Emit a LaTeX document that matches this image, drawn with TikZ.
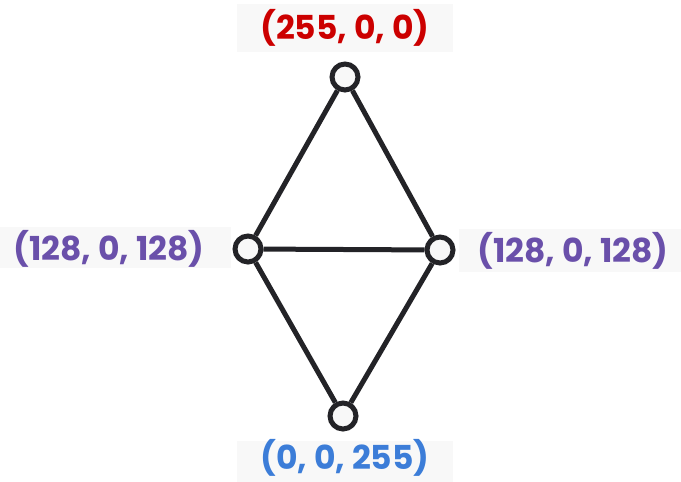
\documentclass[tikz,border=0pt]{standalone}
\usepackage{fontspec}
\setmainfont{Poppins}
\definecolor{edgec}{HTML}{232327}
\definecolor{boxbg}{HTML}{F8F8F8}
\definecolor{redc}{HTML}{CC0000}
\definecolor{purc}{HTML}{6A50AA}
\definecolor{bluc}{HTML}{3C7DD8}
\begin{document}
\begin{tikzpicture}[x=1pt,y=-1pt,
  vert/.style={circle,draw=edgec,fill=boxbg,line width=5pt,minimum size=26pt,inner sep=0pt},
  edge/.style={draw=edgec,line width=5pt},
  lab/.style={fill=boxbg,font=\fontsize{33}{36}\selectfont\bfseries,inner sep=0pt,text height=25pt,text depth=4pt}]
\useasboundingbox (0,0) rectangle (681,482);
\node[vert] (t) at (345,77) {};
\node[vert] (l) at (248,249) {};
\node[vert] (r) at (440,250) {};
\node[vert] (b) at (343,416) {};
\draw[edge] (t) -- (l);
\draw[edge] (t) -- (r);
\draw[edge] (l) -- (r);
\draw[edge] (l) -- (b);
\draw[edge] (r) -- (b);
\fill[boxbg] (237,4) rectangle (453,52);
\fill[boxbg] (0,227) rectangle (231,268);
\fill[boxbg] (459,229) rectangle (681,272);
\fill[boxbg] (237,441) rectangle (453,482);
\node[lab,text=redc] (tl) at (345,29) {(255, 0, 0)};
\node[lab,text=purc] (ll) at (109,250) {(128, 0, 128)};
\node[lab,text=purc] (rl) at (573,252) {(128, 0, 128)};
\node[lab,text=bluc] (bl) at (345,459) {(0, 0, 255)};
\end{tikzpicture}
\end{document}
